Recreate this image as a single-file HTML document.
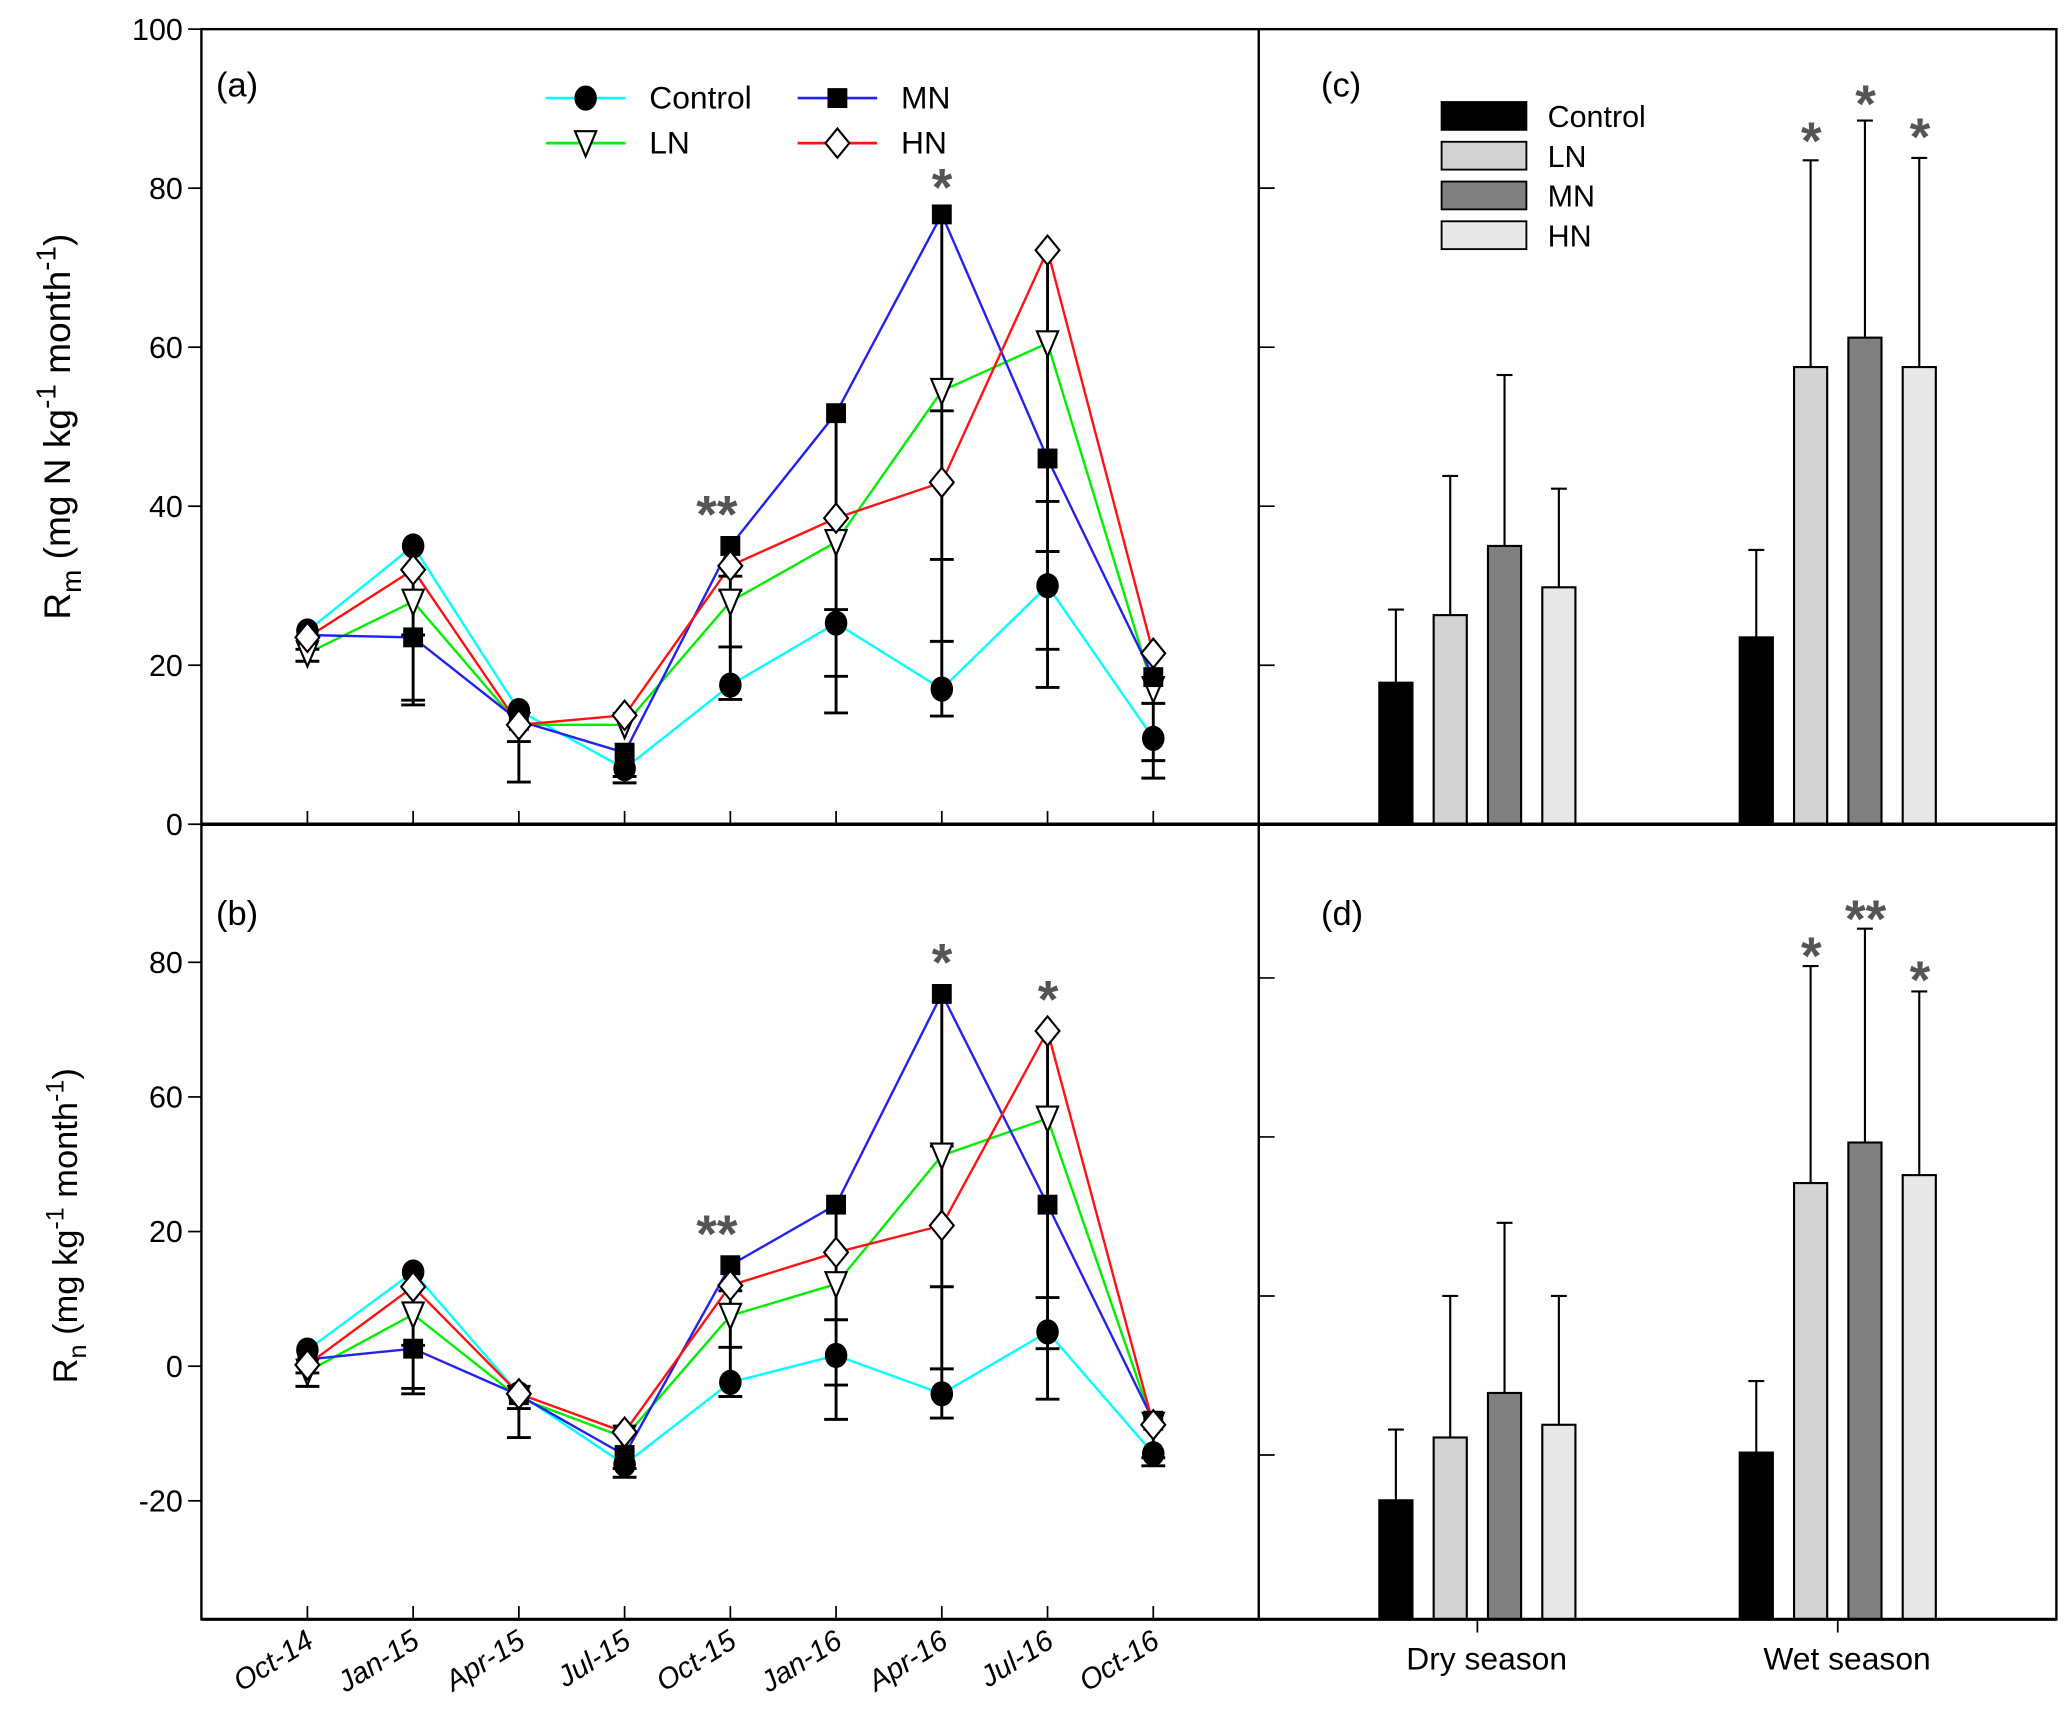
<!DOCTYPE html>
<html><head><meta charset="utf-8"><style>
html,body{margin:0;padding:0;background:#fff}
svg{display:block}
text{font-family:"Liberation Sans",sans-serif}
</style></head><body>
<svg id="fig" xmlns="http://www.w3.org/2000/svg" width="2067" height="1720" viewBox="0 0 1560 1298" preserveAspectRatio="none"></svg>
<script>
// ---- data ----
const months = ["Oct-14","Jan-15","Apr-15","Jul-15","Oct-15","Jan-16","Apr-16","Jul-16","Oct-16"];
const seriesNames = ["Control","LN","MN","HN"];
// panel (a) Rm
const aControl = [24.3,35,14.3,7,17.5,25.3,17,30,10.8];
const aLN = [21.5,28,12.5,12.5,28,35.5,54.5,60.5,17];
const aMN = [23.8,23.5,13,9,35,51.7,76.7,46,18.5];
const aHN = [23.5,32,12.5,13.7,32.5,38.5,43,72.2,21.5];
const aErrHi = [24,33,14,9,35,51,76,72,20];
const aErrLo = [20.5,15,5.3,5.2,15.7,14,13.6,17.2,5.8];
const aCaps = [[22,20.5],[23.8,15.6,15],[10.4,5.3],[6,5.2],[31.2,29.4,22.3,15.7],[27,18.6,14],[52,33.3,23,13.6],[40.6,34.3,22,17.2],[15.2,8,5.8]];
// panel (b) Rn
const bControl = [2.4,14,-4.1,-14.6,-2.4,1.6,-4.1,5.1,-13];
const bLN = [-0.8,7.7,-4.7,-10.6,7.5,12.2,31.3,36.8,-8.7];
const bMN = [1,2.6,-4.3,-13.2,15,24,55.3,24,-8.1];
const bHN = [0.2,11.8,-4.1,-9.8,12,16.9,20.9,49.8,-8.7];
const bErrHi = [2,14,-4,-10,15,24,55,50,-8];
const bErrLo = [-3,-4.1,-10.6,-16.5,-4.5,-7.9,-7.7,-4.9,-14.8];
const bCaps = [[-1,-3],[3.1,-3.3,-4.1],[-6.3,-10.6],[-15.2,-16.5],[11.2,2.8,-4.5],[6.9,-2.8,-7.9],[32.7,11.8,-0.4,-7.7],[10.2,2.6,-4.9],[-13.6,-14.8]];
const aTicks = [0,20,40,60,80,100];
const bTickVals = [-20,0,20,40,60];
const bTickLabels = ["-20","0","20","60","80"];
// panel (c)/(d) bars
const seasons = ["Dry season","Wet season"];
const cMean = [[17.8,26.3,35,29.8],[23.5,57.5,61.2,57.5]];
const cErr = [[27,43.8,56.5,42.2],[34.5,83.5,88.5,83.8]];
const dMean = [[-25.7,-17.8,-12.2,-16.2],[-19.7,14.2,19.3,15.2]];
const dErr = [[-16.8,0,9.2,0],[-10.7,41.5,46.2,38.3]];
const dTicks = [-20,0,20,40];

// ---- layout ----
const svg = document.getElementById('fig');
const NS = "http://www.w3.org/2000/svg";
function mk(tag, attrs, parent){const e=document.createElementNS(NS,tag);for(const k in attrs)e.setAttribute(k,attrs[k]);(parent||svg).appendChild(e);return e;}
const xM = i => 232 + 79.8*i;
const yA = v => 622 - v*6;
const yB = v => 1031 - v*5.08;
const yC = v => 622 - v*6;
const yD = v => 978 - v*6;
const seasonX = [1115,1387];
const barOff = [-74,-33,8,49];
const barW = 25;
const lineColors = ["#00ffff","#00ee00","#2222ee","#ff1111"];
const barFills = ["#000000","#d3d3d3","#808080","#e8e8e8"];

function marker(kind,x,y,g){
  let e;
  if(kind===0){e=mk('ellipse',{cx:x,cy:y,rx:8.5,ry:9.5,fill:'#000'},g);}
  else if(kind===1){e=mk('polygon',{points:`${x-8},${y-9} ${x+8},${y-9} ${x},${y+10}`,fill:'#fff',stroke:'#000','stroke-width':1.6},g);}
  else if(kind===2){e=mk('rect',{x:x-7.5,y:y-7.5,width:15,height:15,fill:'#000'},g);}
  else {e=mk('polygon',{points:`${x},${y-11} ${x+9},${y} ${x},${y+11} ${x-9},${y}`,fill:'#fff',stroke:'#000','stroke-width':1.6},g);}
  return e;
}

function linePanel(series, errHi, errLo, caps, yf, prefix){
  const g = mk('g',{});
  
  
  series.forEach((s,si)=>{
    const p = mk('polyline',{points:s.map((v,i)=>xM(i)+','+yf(v)).join(' '),fill:'none',stroke:lineColors[si],'stroke-width':1.8},g);
    
    
  });
  months.forEach((m,i)=>{
    const x = xM(i);
    const eb = mk('g',{stroke:'#000','stroke-width':2.2},g);
    
    
    mk('line',{x1:x,x2:x,y1:yf(errHi[i]),y2:yf(errLo[i])},eb);
    caps[i].forEach(c=>mk('line',{x1:x-9,x2:x+9,y1:yf(c),y2:yf(c)},eb));
  });
  series.forEach((s,si)=>{
    s.forEach((v,i)=>{
      const e = marker(si,xM(i),yf(v),g);
      
      
    });
  });
}

function barPanel(mean, err, yf, prefix, base){
  seasons.forEach((s,gi)=>{
    mean[gi].forEach((v,bi)=>{
      const x = seasonX[gi]+barOff[bi];
      const ln = mk('line',{x1:x+barW/2,x2:x+barW/2,y1:yf(v),y2:yf(err[gi][bi]),stroke:'#000','stroke-width':1.6});
      
      
      const cp = mk('line',{x1:x+barW/2-6,x2:x+barW/2+6,y1:yf(err[gi][bi]),y2:yf(err[gi][bi]),stroke:'#000','stroke-width':1.6});
      
      
      const r = mk('rect',{x:x,y:yf(v),width:barW,height:base-yf(v),fill:barFills[bi],stroke:'#000','stroke-width':1.6});
      
      
    });
  });
}

linePanel([aControl,aLN,aMN,aHN], aErrHi, aErrLo, aCaps, yA, 'a');
linePanel([bControl,bLN,bMN,bHN], bErrHi, bErrLo, bCaps, yB, 'b');
barPanel(cMean, cErr, yC, 'c', 622);
barPanel(dMean, dErr, yD, 'd', 1222);

// ---- axes/frames ----
const frame = mk('g',{stroke:'#000',fill:'none'});


mk('rect',{x:152,y:22,width:1400,height:1200,'stroke-width':1.8},frame);
mk('line',{x1:950,x2:950,y1:22,y2:1222,'stroke-width':1.8},frame);
mk('line',{x1:152,x2:1552,y1:622,y2:622,'stroke-width':2.6},frame);
mk('line',{x1:152,x2:1552,y1:1222,y2:1222,'stroke-width':2.4},frame);
months.forEach((m,i)=>{
  mk('line',{x1:xM(i),x2:xM(i),y1:612,y2:622,'stroke-width':1.3},frame);
  mk('line',{x1:xM(i),x2:xM(i),y1:1212,y2:1222,'stroke-width':1.3},frame);
});
aTicks.forEach(v=>mk('line',{x1:142,x2:152,y1:yA(v),y2:yA(v),'stroke-width':1.3},frame));
bTickVals.forEach(v=>mk('line',{x1:142,x2:152,y1:yB(v),y2:yB(v),'stroke-width':1.3},frame));
aTicks.slice(1,5).forEach(v=>mk('line',{x1:950,x2:962,y1:yC(v),y2:yC(v),'stroke-width':1.3},frame));
dTicks.forEach(v=>mk('line',{x1:950,x2:962,y1:yD(v),y2:yD(v),'stroke-width':1.3},frame));
seasonX.forEach(x=>mk('line',{x1:x,x2:x,y1:1222,y2:1232,'stroke-width':1.3},frame));

function txt(s,attrs,name){const t=mk('text',attrs);t.textContent=s;return t;}
aTicks.forEach(v=>txt(String(v),{x:138,y:yA(v)+8,'text-anchor':'end','font-size':23},'a-y-tick-'+v));
bTickVals.forEach((v,i)=>txt(bTickLabels[i],{x:138,y:yB(v)+8,'text-anchor':'end','font-size':23},'b-y-tick-'+bTickLabels[i]));
months.forEach((m,i)=>txt(m,{x:0,y:0,'text-anchor':'end','font-size':22,'font-style':'italic',transform:`translate(${xM(i)+6},${1242}) rotate(-32)`},'x-tick-'+m.toLowerCase()));
seasons.forEach((s,i)=>txt(s,{x:seasonX[i]+7,y:1260,'text-anchor':'middle','font-size':24},'x-tick-'+s.toLowerCase().replace(' ','-')));

let t = mk('text',{transform:'translate(53,322) rotate(-90)','text-anchor':'middle','font-size':28});

t.innerHTML='R<tspan font-size="21" dy="8">m</tspan><tspan dy="-8"> (mg N kg</tspan><tspan font-size="21" dy="-11">-1</tspan><tspan dy="11"> month</tspan><tspan font-size="21" dy="-11">-1</tspan><tspan dy="11">)</tspan>';
t = mk('text',{transform:'translate(58,925) rotate(-90)','text-anchor':'middle','font-size':26});

t.innerHTML='R<tspan font-size="19" dy="7">n</tspan><tspan dy="-7"> (mg kg</tspan><tspan font-size="19" dy="-10">-1</tspan><tspan dy="10"> month</tspan><tspan font-size="19" dy="-10">-1</tspan><tspan dy="10">)</tspan>';

txt('(a)',{x:163,y:73,'font-size':26},'panel-label-a');
txt('(b)',{x:163,y:698,'font-size':26},'panel-label-b');
txt('(c)',{x:997,y:73,'font-size':26},'panel-label-c');
txt('(d)',{x:997,y:698,'font-size':26},'panel-label-d');

const stars = [[541,402,'**'],[711,155,'*'],[541,945,'**'],[711,740,'*'],[791,768,'*'],[1367,120,'*'],[1408,92,'*'],[1449,117,'*'],[1367,735,'*'],[1408,707,'**'],[1449,753,'*']];
stars.forEach((s,i)=>txt(s[2],{x:s[0],y:s[1],'text-anchor':'middle','font-size':40,'font-weight':'bold',fill:'#555'},'significance-star-'+i));

const leg = [[412,74,0],[412,108,1],[602,74,2],[602,108,3]];
leg.forEach(l=>{
  const g = mk('g',{});
  
  
  mk('line',{x1:l[0],x2:l[0]+60,y1:l[1],y2:l[1],stroke:lineColors[l[2]],'stroke-width':2},g);
  marker(l[2],l[0]+30,l[1],g);
  const tt = mk('text',{x:l[0]+78,y:l[1]+8,'font-size':24},g); tt.textContent=seriesNames[l[2]];
});
seriesNames.forEach((n,i)=>{
  const g = mk('g',{});
  
  
  mk('rect',{x:1088,y:77+30*i,width:64,height:21,fill:barFills[i],stroke:'#000','stroke-width':1.4},g);
  const tt = mk('text',{x:1168,y:96+30*i,'font-size':23},g); tt.textContent=n;
});
</script>
</body></html>
